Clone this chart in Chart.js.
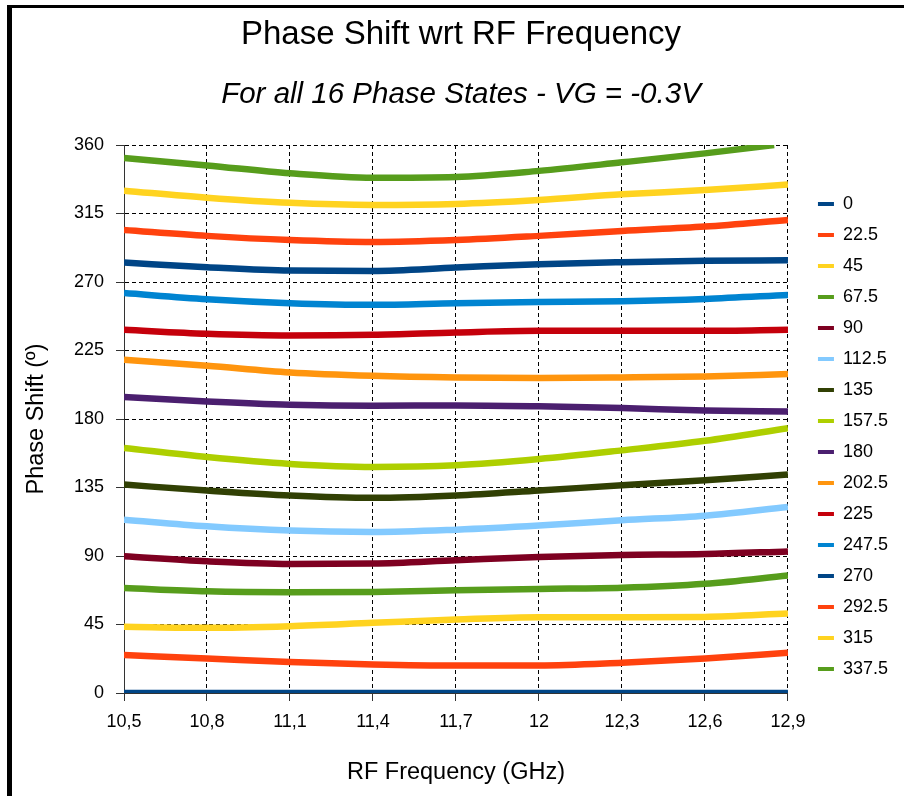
<!DOCTYPE html>
<html>
<head>
<meta charset="utf-8">
<script src="https://cdn.jsdelivr.net/npm/chart.js@4.4.1/dist/chart.umd.min.js"></script>
<style>
html, body { margin: 0; padding: 0; background: #fff; }
#wrap { position: relative; width: 904px; height: 796px; }
#c { display: block; }
#frame { position: absolute; left: 7px; top: 5px; width: 897px; height: 791px; border-left: 5px solid #000; border-top: 3px solid #000; box-sizing: border-box; pointer-events: none; }
</style>
</head>
<body>
<div id="wrap"><canvas id="c" width="904" height="796"></canvas><div id="frame"></div></div>
<script>
// ---- data ----
const freqs    = [10.5, 10.8, 11.1, 11.4, 11.7, 12.0, 12.3, 12.6, 12.9];
const freqs337 = [10.5, 10.8, 11.1, 11.4, 11.7, 12.0, 12.3, 12.6, 12.85];
const xTickLabels = ['10,5', '10,8', '11,1', '11,4', '11,7', '12', '12,3', '12,6', '12,9'];
const yTickValues = [0, 45, 90, 135, 180, 225, 270, 315, 360];
const phaseStates = ['0', '22.5', '45', '67.5', '90', '112.5', '135', '157.5', '180', '202.5', '225', '247.5', '270', '292.5', '315', '337.5'];
const colors = ['#004586', '#ff420e', '#ffd320', '#579d1c', '#7e0021', '#83caff', '#314004', '#aecf00', '#4b1f6f', '#ff950e', '#c5000b', '#0084d1', '#004586', '#ff420e', '#ffd320', '#579d1c'];

const s0     = [0, 0, 0, 0, 0, 0, 0, 0, 0];
const s22_5  = [24.9, 22.7, 20.3, 18.8, 18.1, 18.1, 19.9, 22.7, 26.4];
const s45    = [43.5, 42.8, 43.9, 46.1, 48.3, 49.8, 49.8, 50.0, 52.2];
const s67_5  = [69.0, 66.8, 66.2, 66.4, 67.5, 68.4, 69.1, 71.7, 77.2];
const s90    = [89.8, 86.5, 84.8, 85.0, 87.2, 89.4, 90.7, 91.3, 93.0];
const s112_5 = [113.9, 109.5, 106.7, 105.8, 107.3, 110.0, 113.5, 116.5, 122.2];
const s135   = [136.9, 133.0, 129.7, 128.2, 129.7, 133.0, 136.5, 139.8, 143.5];
const s157_5 = [161.0, 155.0, 150.5, 148.5, 149.6, 153.7, 159.4, 165.7, 174.0];
const s180   = [194.4, 191.5, 189.4, 188.7, 188.9, 188.3, 187.2, 185.6, 185.0];
const s202_5 = [218.9, 215.0, 210.6, 208.4, 207.3, 206.9, 207.3, 208.0, 209.5];
const s225   = [238.6, 236.0, 234.9, 235.3, 236.8, 237.9, 237.9, 237.9, 238.6];
const s247_5 = [262.7, 258.7, 256.1, 255.0, 256.1, 256.8, 257.4, 258.9, 261.5];
const s270   = [282.8, 279.7, 277.5, 277.3, 279.5, 281.7, 283.0, 283.9, 284.3];
const s292_5 = [304.2, 300.3, 297.6, 296.3, 297.6, 300.3, 303.5, 306.4, 310.8];
const s315   = [330.0, 325.4, 322.0, 320.6, 321.3, 323.9, 327.6, 330.4, 334.0];
const s337_5 = [351.4, 346.6, 341.4, 338.5, 339.0, 343.0, 348.6, 354.5, 360.0];

const seriesList = [s0, s22_5, s45, s67_5, s90, s112_5, s135, s157_5, s180, s202_5, s225, s247_5, s270, s292_5, s315, s337_5];
const xList = seriesList.map((s, i) => i === 15 ? freqs337 : freqs);

// ---- chart ----
Chart.defaults.font.family = "'Liberation Sans', Arial, sans-serif";
Chart.defaults.color = '#000';

const datasets = phaseStates.map((name, i) => ({
  label: name,
  data: seriesList[i].map((v, j) => ({ x: xList[i][j], y: v })),
  borderColor: colors[i],
  backgroundColor: colors[i],
  borderWidth: 6.5,
  pointRadius: 0,
  pointHoverRadius: 0,
  fill: false,
  cubicInterpolationMode: 'monotone'
}));

new Chart(document.getElementById('c'), {
  type: 'line',
  data: { datasets },
  options: {
    responsive: false,
    animation: false,
    devicePixelRatio: 1,
    layout: { padding: { left: 24, right: 6, top: 0, bottom: 0 } },
    plugins: {
      tooltip: { enabled: false },
      title: {
        display: true,
        text: 'Phase Shift wrt RF Frequency',
        font: { size: 33, weight: 'normal' },
        color: '#000',
        padding: { top: 15, bottom: 0 }
      },
      subtitle: {
        display: true,
        text: 'For all 16 Phase States - VG = -0.3V',
        font: { size: 29.5, style: 'italic', weight: 'normal' },
        color: '#000',
        padding: { top: 22, bottom: 33 }
      },
      legend: {
        position: 'right',
        align: 'start',
        title: { display: true, text: '', font: { size: 10 }, padding: { top: 170, bottom: 0 } },
        labels: {
          font: { size: 18 },
          color: '#000',
          boxWidth: 16,
          boxHeight: 4,
          padding: 13,
          generateLabels: (chart) => chart.data.datasets.map((ds, i) => ({
            text: ds.label,
            fillStyle: ds.borderColor,
            strokeStyle: ds.borderColor,
            lineWidth: 0,
            hidden: false,
            datasetIndex: i
          }))
        }
      }
    },
    scales: {
      x: {
        type: 'linear',
        min: 10.5,
        max: 12.9,
        afterBuildTicks: (s) => { s.ticks = freqs.map(v => ({ value: v })); },
        afterFit: (s) => { s.height = 103; },
        ticks: {
          font: { size: 18 },
          color: '#000',
          padding: 10,
          maxRotation: 0,
          autoSkip: false,
          callback: (v, i) => xTickLabels[i]
        },
        grid: { color: '#000', lineWidth: 1, tickLength: 8, tickColor: '#333', tickBorderDash: [] },
        border: { display: true, color: '#333', width: 1, dash: [4, 3] },
        title: { display: true, text: 'RF Frequency (GHz)', font: { size: 23.5 }, color: '#000', padding: { top: 0, bottom: 9 } }
      },
      y: {
        min: 0,
        max: 360,
        afterBuildTicks: (s) => { s.ticks = yTickValues.map(v => ({ value: v })); },
        afterFit: (s) => { s.width = 100; },
        ticks: {
          font: { size: 18 },
          color: '#000',
          padding: 12,
          autoSkip: false,
          callback: (v) => String(v)
        },
        grid: { color: '#000', lineWidth: 1, tickLength: 8, tickColor: '#333', tickBorderDash: [] },
        border: { display: true, color: '#333', width: 1, dash: [4, 3] },
        title: { display: true, text: 'Phase Shift (º)', font: { size: 23.5 }, color: '#000', padding: { top: -2, bottom: 0 } }
      },
      gap: {
        type: 'linear',
        position: 'right',
        display: true,
        grid: { display: false, drawTicks: false },
        ticks: { display: false },
        border: { display: false },
        afterFit: (s) => { s.width = 17; }
      }
    }
  }
});
</script>
</body>
</html>
